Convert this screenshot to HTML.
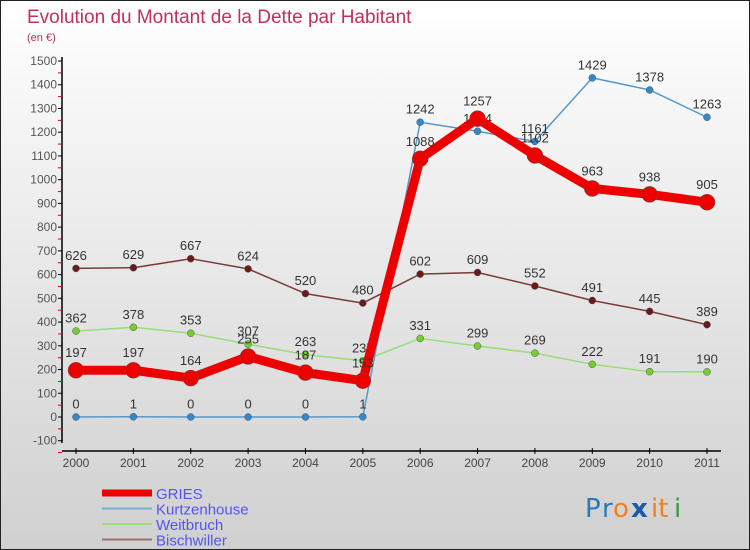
<!DOCTYPE html>
<html><head><meta charset="utf-8"><style>
body{margin:0;}
#wrap{width:750px;height:550px;position:relative;box-sizing:border-box;border:1px solid #222;background:linear-gradient(#ffffff,#d0d0d0);font-family:"Liberation Sans",sans-serif;overflow:hidden}
svg{position:absolute;left:0;top:0}
</style></head><body>
<div id="wrap">
<svg id="chart" width="750" height="550">
<text x="26" y="22" font-size="19" fill="#c0305a">Evolution du Montant de la Dette par Habitant</text>
<text x="26" y="40" font-size="11" fill="#c0305a">(en €)</text>
<g id="axes"></g><g id="series"></g><g id="legend"></g>
<g font-size="26" font-family="'DejaVu Sans',sans-serif">
<text x="584" y="516" fill="#2a7ab8">P</text><text x="601" y="516" fill="#2a7ab8">r</text><text x="612" y="516" fill="#f08020">o</text><text x="630" y="516" fill="#1a5aa8" font-weight="bold">x</text><text x="650" y="516" fill="#f08020">it</text><text x="673" y="516" fill="#3a9a3a">i</text>
</g>
</svg>
</div>
<script>
const years=[2000,2001,2002,2003,2004,2005,2006,2007,2008,2009,2010,2011];
const gries=[197,197,164,255,187,153,1088,1257,1102,963,938,905];
const kurtz=[0,1,0,0,0,1,1242,1204,1161,1429,1378,1263];
const weit=[362,378,353,307,263,237,331,299,269,222,191,190];
const bisch=[626,629,667,624,520,480,602,609,552,491,445,389];
const yTicks=[-100,0,100,200,300,400,500,600,700,800,900,1000,1100,1200,1300,1400,1500];
const NS="http://www.w3.org/2000/svg";
const xs=i=>75+i*(706-75)/11;
const ys=v=>416-v*(356/1500);
function mk(t,a,p){const e=document.createElementNS(NS,t);for(const k in a)e.setAttribute(k,a[k]);p.appendChild(e);return e;}
const axes=document.getElementById('axes');
const yl=mk('line',{x1:61,y1:56,x2:61,y2:442,stroke:'#000','stroke-width':1.5},axes);


const xl=mk('line',{x1:61,y1:450,x2:720,y2:450,stroke:'#000','stroke-width':1.5},axes);


yTicks.forEach(v=>{const y=ys(v);
mk('line',{x1:57,y1:y,x2:61,y2:y,stroke:'#000'},axes);
mk('line',{x1:57,y1:y+11.9,x2:61,y2:y+11.9,stroke:'#d00'},axes);
const t=mk('text',{x:56,y:y+4,'font-size':12,fill:'#555','text-anchor':'end'},axes);t.textContent=v;

});
years.forEach((yr,i)=>{const x=xs(i);
mk('line',{x1:x,y1:447,x2:x,y2:453,stroke:'#000'},axes);
const t=mk('text',{x:x,y:466,'font-size':12,fill:'#444','text-anchor':'middle'},axes);t.textContent=yr;

});
const S=document.getElementById('series');
function series(name,data,col,dot,w,r){
const g=mk('g',{},S);


const pl=mk('polyline',{points:data.map((v,i)=>xs(i)+','+ys(v)).join(' '),fill:'none',stroke:col,'stroke-width':w,'stroke-linejoin':'round'},g);


data.forEach((v,i)=>{const c=mk('circle',{cx:xs(i),cy:ys(v),r:r,fill:dot,stroke:'#555','stroke-width':0.5},g);


const t=mk('text',{x:xs(i),y:ys(v)-r-5,'font-size':13,fill:'#333','text-anchor':'middle'},g);t.textContent=v;

});}
series('bischwiller',bisch,'#7a3a3a','#6a1a1a',1.5,3.5);
series('weitbruch',weit,'#99dd77','#77cc33',1.5,3.5);
series('kurtzenhouse',kurtz,'#5599cc','#3388cc',1.5,3.5);
series('gries',gries,'#ee0000','#ee0000',9,8);
const L=document.getElementById('legend');
[['GRIES','#ee0000',7],['Kurtzenhouse','#7aaacc',2],['Weitbruch','#99dd77',2],['Bischwiller','#9a7070',2]].forEach((d,i)=>{
const y=492+i*15.5;
const ln=mk('line',{x1:101,y1:y,x2:151,y2:y,stroke:d[1],'stroke-width':d[2]},L);


const t=mk('text',{x:155,y:y+6,'font-size':15,fill:'#5555ee'},L);t.textContent=d[0];

});
</script>
</body></html>
